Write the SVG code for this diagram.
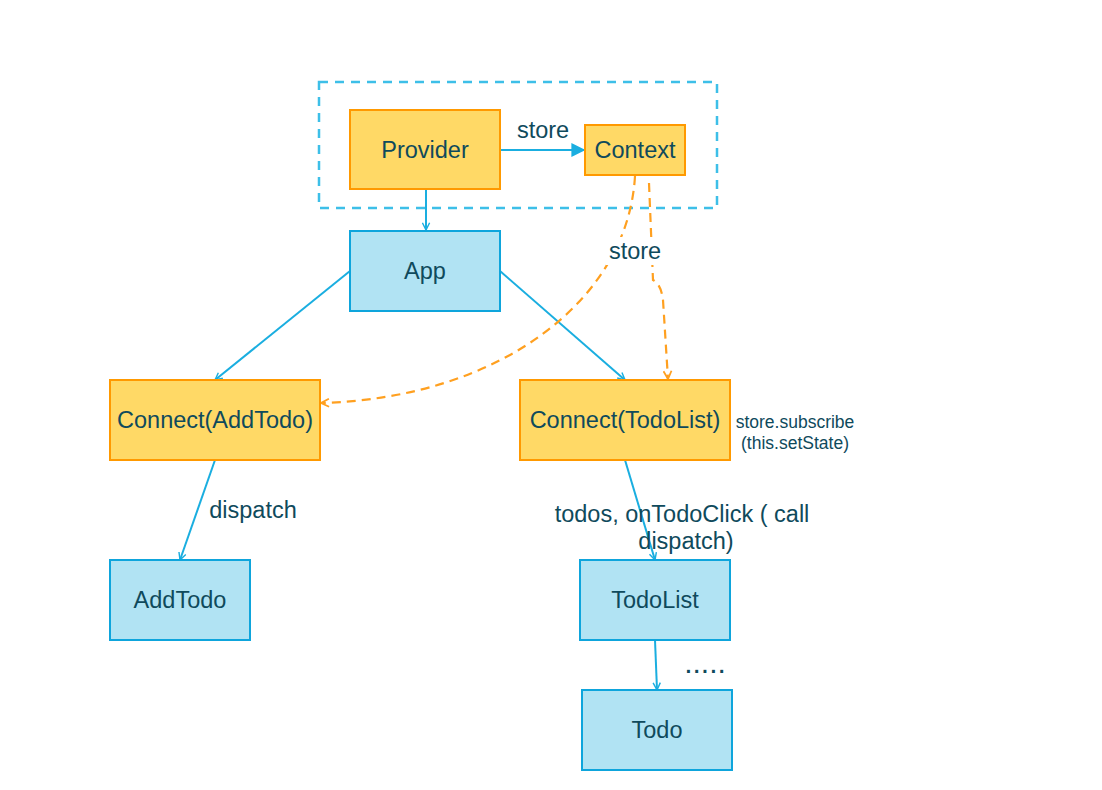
<svg xmlns="http://www.w3.org/2000/svg" width="1102" height="790" viewBox="0 0 1102 790">
<defs>
<style>
.y{fill:#ffd966;stroke:#ff9900;stroke-width:2}
.b{fill:#b1e3f3;stroke:#0ea5dc;stroke-width:2}
text{font-family:"Liberation Sans",Arial,sans-serif;fill:#0f4a5c;text-anchor:middle}
.t{font-size:23.5px}
.s{font-size:17.5px}
.c{fill:none;stroke:#1aaee0;stroke-width:2}
.o{fill:none;stroke:#ffa020;stroke-width:2.2;stroke-dasharray:9 6}
</style>
<marker id="ao" viewBox="0 0 10 10" refX="9" refY="5" markerWidth="9" markerHeight="9" orient="auto" markerUnits="userSpaceOnUse"><path d="M1,1 L9,5 L1,9" fill="none" stroke="#1aaee0" stroke-width="1.6"/></marker>
<marker id="af" viewBox="0 0 10 10" refX="9" refY="5" markerWidth="14" markerHeight="14" orient="auto" markerUnits="userSpaceOnUse"><path d="M0,0 L10,5 L0,10 Z" fill="#1aaee0"/></marker>
<marker id="oo" viewBox="0 0 10 10" refX="9" refY="5" markerWidth="10" markerHeight="10" orient="auto" markerUnits="userSpaceOnUse"><path d="M1,1 L9,5 L1,9" fill="none" stroke="#ffa020" stroke-width="1.8"/></marker>
</defs>
<rect width="1102" height="790" fill="#fff"/>
<rect x="319" y="82" width="398" height="126" fill="none" stroke="#3dbfe8" stroke-width="2.5" stroke-dasharray="9 7"/>
<g id="connectors">
<path class="c" d="M500,150 L584,150" marker-end="url(#af)"/>
<path class="c" d="M426,189 L426,230" marker-end="url(#ao)"/>
<path class="c" d="M350,271 L215,380" marker-end="url(#ao)"/>
<path class="c" d="M500,271 L625,380" marker-end="url(#ao)"/>
<path class="c" d="M215,460 L180,560" marker-end="url(#ao)"/>
<path class="c" d="M625,460 L655,560" marker-end="url(#ao)"/>
<path class="c" d="M655,640 L657,690" marker-end="url(#ao)"/>
<path class="o" d="M635,176 C628,300 500,398 321,403" marker-end="url(#oo)"/>
<path class="o" d="M649,183 L653,280 Q661,284 663,300 L668,379" marker-end="url(#oo)"/>
<text class="t" x="543" y="138">store</text>
<rect x="606" y="237" width="58" height="28" fill="#fff"/>
<text class="t" x="635" y="259">store</text>
<text class="t" x="253" y="518">dispatch</text>
<text class="t" x="682" y="522">todos, onTodoClick ( call</text>
<text class="t" x="686" y="549">dispatch)</text>
<text x="705" y="673" style="font-size:30px">.....</text>
<text class="s" x="795" y="428">store.subscribe</text>
<text class="s" x="795" y="449">(this.setState)</text>
</g>
<g id="provider"><rect class="y" x="350" y="110" width="150" height="79"/><text class="t" x="425" y="158">Provider</text></g>
<g id="context"><rect class="y" x="585" y="125" width="100" height="50"/><text class="t" x="635" y="158">Context</text></g>
<g id="app"><rect class="b" x="350" y="231" width="150" height="80"/><text class="t" x="425" y="279">App</text></g>
<g id="connect-addtodo"><rect class="y" x="110" y="380" width="210" height="80"/><text class="t" x="215" y="428">Connect(AddTodo)</text></g>
<g id="connect-todolist"><rect class="y" x="520" y="380" width="210" height="80"/><text class="t" x="625" y="428">Connect(TodoList)</text></g>
<g id="addtodo"><rect class="b" x="110" y="560" width="140" height="80"/><text class="t" x="180" y="608">AddTodo</text></g>
<g id="todolist"><rect class="b" x="580" y="560" width="150" height="80"/><text class="t" x="655" y="608">TodoList</text></g>
<g id="todo"><rect class="b" x="582" y="690" width="150" height="80"/><text class="t" x="657" y="738">Todo</text></g>
</svg>
